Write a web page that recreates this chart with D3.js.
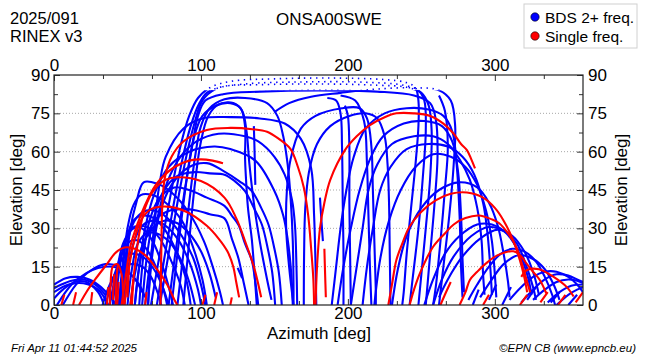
<!DOCTYPE html>
<html><head><meta charset="utf-8">
<script src="https://cdn.jsdelivr.net/npm/d3@7"></script>
<style>
body{margin:0;background:#fff}
svg{display:block}
text{font-family:"Liberation Sans",Arial,Helvetica,sans-serif;fill:#000}
</style>
</head><body>
<svg id="chart" width="650" height="360"></svg>
<script>
// ---------- data ----------
const azMajorTicks = [0, 100, 200, 300];
const azMinorTicks = [33.33, 66.67, 133.33, 166.67, 233.33, 266.67, 333.33];
const elMajorTicks = [0, 15, 30, 45, 60, 75, 90];
const elMinorTicks = [7.5, 22.5, 37.5, 52.5, 67.5, 82.5];
const elGrid = [15, 30, 45, 60, 75];
const legendLabels = ["BDS 2+ freq.", "Single freq."];
const headerLeft = ["2025/091", "RINEX v3"];
const stationName = "ONSA00SWE";
const footerLeft = "Fri Apr 11 01:44:52 2025";
const footerRight = "\u00A9EPN CB (www.epncb.eu)";

// blue tracks: [azimuth, elevation] points (BDS 2+ freq.)
const blueTracks = [
  // low arcs, left
  [[0,8],[8,10.5],[16,11],[24,10],[32,7],[40,2],[42,0]],
  [[0,5],[10,8],[20,8.5],[30,6],[37,0]],
  [[2,0],[12,8],[22,12.5],[30,14.5],[40,15],[50,13],[58,8],[62,3]],
  [[6,0],[15,8],[25,13.5],[35,16],[45,15],[54,11],[60,5]],
  [[0,2.5],[6,6],[14,9],[22,9],[30,5],[34,0]],
  [[0,6.5],[5,8],[12,9.5],[20,10],[28,8],[35,4]],
  // cluster, left
  [[47,0],[49,15],[52,30],[56,40],[61,48],[70,47.5],[80,44],[92,36],[102,25],[108,15],[113,5],[115,0]],
  [[45,0],[47,15],[50,30],[54,39],[59,43],[67,43],[76,40],[87,33],[95,22],[101,10],[104,0]],
  [[58,0],[61,20],[65,33],[72,42],[82,46],[92,45],[104,42],[116,38.8],[121,35],[125.5,31.4],[130,24],[134.6,17.4],[137,9],[139,0]],
  [[44,0],[46,12],[49,25],[54,33],[60,35],[68,34],[76,29],[84,20],[90,10],[93,0]],
  [[42,0],[44,12],[48,24],[53,30],[58,31],[65,30],[72,26],[80,17],[86,8],[89,0]],
  [[40,0],[43,14],[47,24],[52,29],[57,30.5],[62,29],[68,24],[74,15],[79,5],[81,0]],
  [[48,0],[50,12],[54,24],[60,31],[68,33],[76,31],[84,26],[92,17],[98,6],[100,0]],
  [[38,0],[42,12],[46,20],[52,25],[58,25],[64,21],[70,14],[75,5],[77,0]],
  [[35,0],[40,10],[45,17],[52,20],[60,19],[68,14],[74,7],[78,0]],
  [[50,0],[53,14],[57,24],[63,28],[70,28],[78,25],[86,18],[92,9],[96,0]],
  [[46,0],[48,15],[51,27],[56,34],[63,37],[71,36.5],[79,33],[87,27],[95,18],[100,8],[103,0]],
  [[33,0],[38,8],[44,14],[52,16],[60,15],[66,11],[71,4],[73,0]],
  [[52,0],[55,12],[60,23],[67,30],[75,33],[84,32],[92,28],[100,21],[106,12],[110,3]],
  [[55,0],[58,15],[63,27],[70,34],[79,37],[88,37.5],[97,37],[106,35.5],[116,33.9],[121,26],[125.5,18.3],[129,9],[132.4,0]],
  // mid arcs
  [[55,0],[58,15],[62,30],[68,43],[78,54],[92,60],[109,62],[120,61],[137,56.5],[150,44.6],[156,35],[159,25.8],[161.5,12],[162.5,0]],
  [[62,0],[65,15],[70,33],[77,48],[86,58],[97,64],[112,67],[130,66],[139,64],[150,58],[157,51],[162,41],[164,31],[165,15],[165.5,0]],
  [[64,0],[66,18],[69,35],[72,48],[76,58],[88,69],[101,73],[120,73.5],[140,73],[157,71],[168,65],[175,53.5],[177,35],[178,15],[178.5,0]],
  [[60,0],[63,18],[67,32],[74,44],[84,50.5],[96,52],[106,51.5],[116,51],[123,48.5],[130,44.6],[136,38],[141.5,31.4],[145.5,22],[148.5,12.8],[150.5,0]],
  [[64,0],[67,20],[72,36],[80,47],[92,54],[104,55.5],[116,52.2],[126,48.5],[134.6,44.6],[141,38],[146,31.4],[150,22],[153,12.8],[155,0]],
  // high tracks
  [[66,0],[72,20],[79,42],[86,62],[92,74],[98,81],[106,85],[120,87.5],[150,88.5],[190,88.8],[225,88.2],[240,87],[246,85],[248,80],[248,70],[246,55],[243,38],[240,20],[238,5],[237,0]],
  [[72,0],[78,20],[84,40],[90,58],[96,72],[101,80],[110,84.5],[130,86.5],[170,87.3],[210,87.2],[238,86],[248,84],[252,80],[253,68],[251,50],[248,30],[244,10],[242,0]],
  [[70,0],[75,18],[81,38],[87,56],[93,70],[99,79],[104,83],[115,85.5],[140,86.2],[180,86.5],[220,86],[240,85.2],[250,83],[255,78],[257,68],[256,50],[253,30],[250,12],[248,0]],
  [[78,0],[83,22],[89,45],[94,62],[98,74],[103,80],[115,82.5],[140,83.5],[180,84],[220,83.5],[245,82],[256,79],[260,72],[261,58],[259,40],[256,20],[253,0]],
  [[84,0],[88,20],[92,40],[96,58],[100,70],[106,77],[116,80.5],[130,81],[145,79],[152,74],[156,66],[159,55],[161,42],[162.5,25],[163,8],[163,0]],
  [[88,0],[92,25],[96,48],[100,64],[105,74],[112,78.5],[122,79],[128,76],[131,68],[133,55],[136,40],[140,25],[145,10],[148,2]],
  [[80,0],[85,25],[90,48],[95,65],[101,74],[110,78],[120,79],[127,77],[130,70],[130,58],[130.5,51],[132,38],[134.6,25.8],[136.5,12],[138,0]],
  [[150,75.5],[160,79],[175,81.5],[195,83],[220,84.5],[245,85],[262,84],[270,80],[273,70],[272,55],[269,35],[265,15],[262,0]],
  [[136,70],[136.5,60],[137,47]],
  [[181,42],[182,33],[183,25]],
  [[125,14.5],[128,10.5]],
  // middle
  [[163,0],[160,15],[158,30],[158.5,45],[161,57],[168,69],[178,74],[196,77],[208,77],[213,73],[216,62],[217,45],[218,25],[219,5],[219,0]],
  [[170,0],[170.2,20],[171,38],[173.5,52],[179,63],[188,70],[201,74],[212,75],[220,73],[225,66],[227,55],[228,40],[228.5,20],[229,0]],
  [[186,81],[192,80],[195,75],[196,62],[196.5,40],[197,20],[197,0]],
  [[195,82],[205,80],[211,72],[213,55],[214,35],[215,15],[216,0]],
  [[198,78],[200,74],[201,62],[201,40],[201.5,20],[202,0]],
  [[262,82],[266,76],[268,62],[266,45],[263,25],[260,8],[258,0]],
  // right rising arcs
  [[189,0],[192,15],[195,30],[199,45],[204,58],[212,69],[225,75],[240,77],[255,76.5],[265,74],[271,68],[274,55],[276,35],[277,15],[278,3]],
  [[193,0],[197,15],[202,30],[208,45],[215,57],[224,66],[238,71],[252,72],[264,70],[271,64],[275,52],[277,35],[278,18],[279,5]],
  [[202,0],[206,15],[210,30],[214,45],[220,55],[230,63],[245,66],[258,66],[268,63],[276,57],[283,49],[288,38],[291,25],[292,12],[293,4]],
  [[210,0],[213,15],[217,30],[222,45],[229,54],[240,61],[255,63],[268,62],[278,58],[286,51],[292,40],[295,28],[297,14],[298,4]],
  [[218,0],[222,18],[228,33],[236,45],[246,54],[258,59],[270,58],[280,54],[288,47],[294,37],[298,25],[300,12],[301,3]],
  [[230,0],[234,14],[240,27],[250,38],[262,45],[276,48],[288,46],[296,40],[302,31],[306,20],[309,9],[310,3]],
  [[252,0],[258,10],[266,20],[276,27],[288,31.5],[298,31.5],[308,28],[316,21],[322,12],[325,4]],
  [[258,0],[264,10],[272,19],[284,27],[296,30.5],[306,29],[315,24],[321,16],[326,7],[328,2]],
  [[262,3],[268,10],[278,19],[290,26],[302,29.5],[312,27],[320,21],[326,13],[330,4]],
  [[282,2],[288,8],[296,15],[304,20],[312,22],[320,21],[328,17],[334,11],[339,4],[341,0]],
  [[290,3],[298,10],[306,16],[316,19.5],[326,18],[334,14],[340,8],[344,2]],
  [[310,2],[318,7],[326,11],[334,13],[342,13],[350,11],[356,8],[360,5]],
  [[318,1],[326,6],[334,10],[342,12],[350,11.5],[356,10],[360,9]],
  [[326,2],[334,6],[342,9],[350,10],[356,9.5],[360,8.5]],
  [[336,1],[344,5],[352,7.5],[360,8]],
  [[342,0],[350,4],[356,6],[360,7]],
  // short dashes, right bottom
  [[285,0],[289,6]],[[296,2],[301,8]],[[305,0],[311,7]],[[322,2],[328,7]],[[338,1],[344,5]],[[350,0],[356,4]]
];

// red tracks: [azimuth, elevation] points (single freq.)
const redTracks = [
  [[72.5,0],[73,20],[73.8,40],[75.5,50],[80,58],[88,64],[104,68.5],[120,69.3],[135,68.8],[145,67.8],[153,65],[161,61],[166,54],[170,46],[173,35],[175,22],[176.5,10],[177,0]],
  [[46,0],[49,12],[52,23],[57,32],[63.5,41],[70,47.6],[82,54],[92,56.5],[100,57],[108,56.5],[115,55.5]],
  [[52,0],[55,15],[58,28],[62,38],[68,45],[76,49],[84,50],[100,48.5],[116,42],[124,34],[130,25],[136,15],[141,3]],
  [[48,0],[50,10],[52,18],[55,26],[59,33],[66,37.5],[77,38.5],[90,36.5],[104,31],[112,26],[118,21],[122,15],[124,9],[126,3]],
  [[17,0],[22,5],[28,10],[36,16],[42,20.5],[48,22.5],[55,22],[62,19.5],[70,14],[77,8],[82,2],[84,0]],
  [[178,0],[179,15],[181,30],[184,40],[188,49],[198,60.6],[206,66],[215,70.4],[225,73.5],[233,75],[245,75],[256,74],[265,71],[272,67],[277,63],[281,60.6],[284,57],[286.5,53.5]],
  [[184,22],[184.5,12],[185,3]],
  [[227.5,0],[230,8],[233,17.6],[237,24],[242,30.7],[250,36.5],[260,41],[270,43.5],[281,44],[292,42],[300,38],[306,33],[312,26],[317,17.6],[320,11],[322,5]],
  [[242,0],[245,6],[249,12.4],[258,22.8],[266,28],[272,31.5],[280,34],[289,35],[298,33.5],[303,32],[309,28],[314.5,22.8],[319,15],[322,9],[324,5]],
  [[276,0],[280,5],[283,9.8],[288,13],[294,16.3],[302,19.5],[312.6,21],[318,19],[321.5,16.3],[326,13],[330.6,9.8],[335,4.6]],
  [[318,11],[322,13.7],[330,14],[340,11],[349,7],[353.6,3.3]],
  [[38,0],[38.5,8],[40,15],[43,16],[46,12],[47,5],[47.5,0]],
  [[42,0],[42.5,10],[43.5,16]],
  // short dashes, left bottom
  [[5,0],[7,4]],[[13,0],[15,5]],[[25,0],[26,5]],[[36,0],[37,7]],[[40,2],[41,12]],[[43,0],[44,9]],
  [[50,3],[51,14]],[[53,0],[54,10]],[[62,0],[63,5]],[[101,0],[103,4]],[[109,0],[111,5]],[[120,0],[121,3]],
  // short dashes, right bottom
  [[263,0],[266,4],[270,9]],[[292,0],[296,4]],[[317,0],[322,4]],[[331,1],[336,5]],[[343,0],[348,4]],[[355,1],[360,5]]
];

// ---------- drawing ----------
(function () {
const svg = d3.select("#chart");
const pL = 54, pR = 583, pT = 75, pB = 305;
const x = d3.scaleLinear().domain([0, 360]).range([pL, pR]);
const y = d3.scaleLinear().domain([0, 90]).range([pB, pT]);
const dotLimit = 84;

const defs = svg.append("defs");
defs.append("clipPath").attr("id", "clipAll").append("rect")
  .attr("x", pL).attr("y", pT).attr("width", pR - pL).attr("height", pB - pT);
defs.append("clipPath").attr("id", "clipLow").append("rect")
  .attr("x", pL).attr("y", y(dotLimit)).attr("width", pR - pL).attr("height", pB - y(dotLimit));
defs.append("clipPath").attr("id", "clipHigh").append("rect")
  .attr("x", pL).attr("y", pT).attr("width", pR - pL).attr("height", y(dotLimit) - pT);

// grid
svg.append("g").selectAll("line").data(elGrid).join("line")
  .attr("x1", pL).attr("x2", pR)
  .attr("y1", d => y(d)).attr("y2", d => y(d))
  .attr("stroke", "#a8a8a8").attr("stroke-width", 1).attr("stroke-dasharray", "1,2");

// tracks
const line = d3.line().x(d => x(d[0])).y(d => y(d[1])).curve(d3.curveCatmullRom.alpha(0.5));
const gTracks = svg.append("g").attr("clip-path", "url(#clipAll)");
function drawTracks(tracks, color) {
  const g = gTracks.append("g");
  g.append("g").attr("clip-path", "url(#clipLow)").selectAll("path").data(tracks).join("path")
    .attr("d", line).attr("fill", "none").attr("stroke", color)
    .attr("stroke-width", 2.1).attr("stroke-linejoin", "round").attr("stroke-linecap", "butt");
  g.append("g").attr("clip-path", "url(#clipHigh)").selectAll("path").data(tracks).join("path")
    .attr("d", line).attr("fill", "none").attr("stroke", color)
    .attr("stroke-width", 1.6).attr("stroke-dasharray", "1.4,4.6");
}
drawTracks(blueTracks, "#0000ff");
drawTracks(redTracks, "#ff0000");

// axes
const fs = "17px";
function styleAxis(g) {
  g.select(".domain").remove();
  g.selectAll(".tick line").attr("stroke", "#333");
  g.selectAll("text").style("font-size", fs).attr("fill", "#000");
}
svg.append("g").attr("transform", `translate(0,${pB})`)
  .call(d3.axisBottom(x).tickValues(azMajorTicks).tickFormat(d3.format("d")).tickSizeInner(-6).tickSizeOuter(0).tickPadding(2))
  .call(styleAxis);
svg.append("g").attr("transform", `translate(0,${pT})`)
  .call(d3.axisTop(x).tickValues(azMajorTicks).tickFormat(d3.format("d")).tickSizeInner(-6).tickSizeOuter(0).tickPadding(4))
  .call(styleAxis);
svg.append("g").attr("transform", `translate(${pL},0)`)
  .call(d3.axisLeft(y).tickValues(elMajorTicks).tickFormat(d3.format("d")).tickSizeInner(-6).tickSizeOuter(0).tickPadding(4))
  .call(styleAxis);
svg.append("g").attr("transform", `translate(${pR},0)`)
  .call(d3.axisRight(y).tickValues(elMajorTicks).tickFormat(d3.format("d")).tickSizeInner(-6).tickSizeOuter(0).tickPadding(5))
  .call(styleAxis);
// minor ticks
[[d3.axisBottom(x), pB, azMinorTicks, "h"], [d3.axisTop(x), pT, azMinorTicks, "h"],
 [d3.axisLeft(y), pL, elMinorTicks, "v"], [d3.axisRight(y), pR, elMinorTicks, "v"]]
 .forEach(([ax, pos, vals, o]) => {
  svg.append("g").attr("transform", o === "h" ? `translate(0,${pos})` : `translate(${pos},0)`)
    .call(ax.tickValues(vals).tickFormat("").tickSizeInner(-4).tickSizeOuter(0))
    .call(g => { g.select(".domain").remove(); g.selectAll(".tick line").attr("stroke", "#333"); });
});

// frame
svg.append("rect").attr("x", pL).attr("y", pT).attr("width", pR - pL).attr("height", pB - pT)
  .attr("fill", "none").attr("stroke", "#222").attr("stroke-width", 1.2);

// axis titles
svg.append("text").attr("x", 319).attr("y", 339).attr("text-anchor", "middle").style("font-size", fs).text("Azimuth [deg]");
svg.append("text").attr("transform", `translate(22,${(pT + pB) / 2}) rotate(-90)`).attr("text-anchor", "middle").style("font-size", fs).text("Elevation [deg]");
svg.append("text").attr("transform", `translate(627,${(pT + pB) / 2}) rotate(-90)`).attr("text-anchor", "middle").style("font-size", fs).text("Elevation [deg]");

// header
svg.append("g").selectAll("text").data(headerLeft).join("text")
  .attr("x", 10).attr("y", (d, i) => 24 + i * 18).style("font-size", "16.5px").text(d => d);
svg.append("text").attr("x", 329).attr("y", 25).attr("text-anchor", "middle").style("font-size", fs).text(stationName);

// legend
const lg = svg.append("g");
lg.append("rect").attr("x", 524).attr("y", 4).attr("width", 113).attr("height", 44)
  .attr("fill", "#fff").attr("stroke", "#d0d0d0").attr("stroke-width", 1);
const legendColors = ["#0000ff", "#ff0000"];
legendLabels.forEach((t, i) => {
  lg.append("circle").attr("cx", 535).attr("cy", 17 + i * 19).attr("r", 4.2).attr("fill", legendColors[i]).attr("stroke", "#000").attr("stroke-width", 0.6);
  lg.append("text").attr("x", 545).attr("y", 22.5 + i * 19).style("font-size", "15.5px").text(t);
});

// footer
svg.append("text").attr("x", 11).attr("y", 352).style("font-size", "11.5px").style("font-style", "italic").text(footerLeft);
svg.append("text").attr("x", 636).attr("y", 352).attr("text-anchor", "end").style("font-size", "11.5px").style("font-style", "italic").text(footerRight);
})();
</script>
</body></html>
